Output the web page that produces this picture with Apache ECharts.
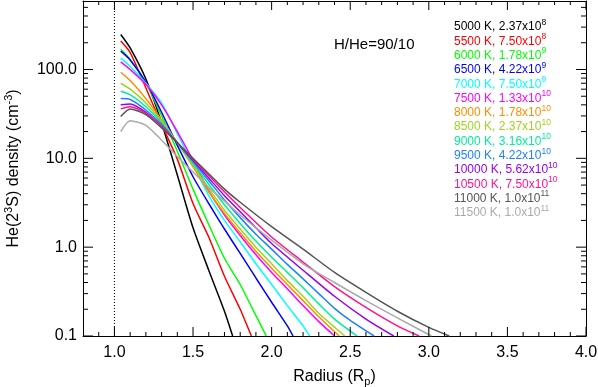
<!DOCTYPE html>
<html><head><meta charset="utf-8">
<script src="https://cdn.jsdelivr.net/npm/echarts@6/dist/echarts.min.js"></script>
<style>html,body{margin:0;padding:0;background:#fff}#c{width:598px;height:387px}</style>
</head><body><div id="c"></div>
<script>
// ---- data ----
const temps = ['5000','5500','6000','6500','7000','7500','8000','8500','9000','9500','10000','10500','11000','11500'];
const mantissas = ['2.37','7.50','1.78','4.22','7.50','1.33','1.78','2.37','3.16','4.22','5.62','7.50','1.0','1.0'];
const exponents = ['8','8','9','9','9','10','10','10','10','10','10','10','11','11'];

const d5000 = [[1.04,248],[1.1,175],[1.2,78],[1.3,25],[1.4,6.5],[1.5,1.65],[1.6,0.55],[1.7,0.19],[1.752,0.1]];
const d5500 = [[1.04,209],[1.1,155],[1.2,62],[1.3,24],[1.4,9.8],[1.5,3.1],[1.6,1.3],[1.7,0.47],[1.8,0.2],[1.871,0.1]];
const d6000 = [[1.04,169],[1.1,130],[1.2,70],[1.3,30],[1.4,12],[1.5,4.5],[1.6,1.8],[1.7,0.75],[1.8,0.38],[1.9,0.17],[1.966,0.1]];
const d6500 = [[1.04,161],[1.1,128],[1.2,72],[1.3,33],[1.4,14],[1.5,6.2],[1.6,3.1],[1.7,1.6],[1.8,0.85],[1.9,0.45],[2.0,0.24],[2.1,0.13],[2.136,0.1]];
const d7000 = [[1.04,134],[1.1,108],[1.2,70],[1.3,42],[1.4,19],[1.5,8.5],[1.6,3.8],[1.7,2.0],[1.8,1.15],[1.9,0.65],[2.0,0.38],[2.1,0.22],[2.2,0.13],[2.242,0.1]];
const d7500 = [[1.04,122],[1.1,100],[1.2,68],[1.3,40],[1.4,20],[1.5,9.5],[1.6,4.3],[1.7,2.3],[1.8,1.35],[1.9,0.82],[2.0,0.52],[2.1,0.34],[2.2,0.22],[2.3,0.145],[2.401,0.1]];
const d8000 = [[1.04,93],[1.1,75],[1.2,47],[1.3,27],[1.4,15],[1.5,8],[1.6,4.2],[1.7,2.4],[1.8,1.45],[1.9,0.9],[2.0,0.58],[2.1,0.38],[2.2,0.25],[2.3,0.165],[2.43,0.1]];
const d8500 = [[1.04,70],[1.1,60],[1.2,42],[1.3,26],[1.4,15],[1.5,8.3],[1.6,4.6],[1.7,2.6],[1.8,1.6],[1.9,1.0],[2.0,0.65],[2.1,0.42],[2.2,0.28],[2.3,0.18],[2.465,0.1]];
const d9000 = [[1.04,57],[1.1,52],[1.2,38],[1.3,25],[1.4,15],[1.5,8.8],[1.6,5.1],[1.7,3.0],[1.8,1.85],[1.9,1.17],[2.0,0.77],[2.1,0.52],[2.2,0.35],[2.3,0.23],[2.4,0.155],[2.544,0.1]];
const d9500 = [[1.04,47],[1.1,46],[1.2,35],[1.3,24],[1.4,15],[1.5,9.2],[1.6,5.6],[1.7,3.4],[1.8,2.15],[1.9,1.4],[2.0,0.95],[2.1,0.64],[2.2,0.44],[2.3,0.3],[2.4,0.205],[2.5,0.15],[2.652,0.1]];
const d10000 = [[1.04,40],[1.1,41],[1.2,33],[1.3,23],[1.4,15],[1.5,9.5],[1.6,6.0],[1.7,3.8],[1.8,2.5],[1.9,1.65],[2.0,1.1],[2.2,0.55],[2.4,0.28],[2.6,0.155],[2.777,0.1]];
const d10500 = [[1.04,36],[1.1,38],[1.2,32],[1.3,23],[1.4,15],[1.5,9.8],[1.6,6.4],[1.7,4.2],[1.8,2.8],[2.0,1.3],[2.2,0.68],[2.4,0.36],[2.6,0.21],[2.8,0.13],[2.938,0.1]];
const d11000 = [[1.04,29.5],[1.1,36],[1.2,31],[1.3,22],[1.4,15],[1.5,10],[1.6,6.7],[1.7,4.5],[1.8,3.2],[2.0,1.7],[2.2,0.95],[2.4,0.52],[2.6,0.31],[2.8,0.19],[3.0,0.125],[3.13,0.1]];
const d11500 = [[1.04,20],[1.1,26.5],[1.2,23.5],[1.3,16],[1.4,10.5],[1.5,7],[1.6,4.7],[1.7,3.3],[1.8,2.3],[2.0,1.2],[2.2,0.65],[2.4,0.4],[2.6,0.25],[2.8,0.16],[3.017,0.1]];
const allSeries = [d5000,d5500,d6000,d6500,d7000,d7500,d8000,d8500,d9000,d9500,d10000,d10500,d11000,d11500];

const surfaceRadius = 1.0;   // dotted vertical line (R = 1 Rp)
const xMajor = [1.0,1.5,2.0,2.5,3.0,3.5,4.0];
const xMinor = [0.9,1.1,1.2,1.3,1.4,1.6,1.7,1.8,1.9,2.1,2.2,2.3,2.4,2.6,2.7,2.8,2.9,3.1,3.2,3.3,3.4,3.6,3.7,3.8,3.9];
const yMajor = [0.1,1,10,100];
const yMinor = [0.2,0.3,0.4,0.5,0.6,0.7,0.8,0.9,2,3,4,5,6,7,8,9,20,30,40,50,60,70,80,90,200,300,400,500];

// ---- styles / layout ----
const colors = ['#000000','#ff0000','#00ff00','#0000ff','#00ffff','#ff00ff','#ff8c00','#9fd41f','#00ee99','#1e80ff','#9900ee','#ff1493','#555555','#aaaaaa'];
const FF = 'Liberation Sans, Arial, Helvetica, sans-serif';
const X0 = 0.8, X1 = 4.0, Y0 = 0.1, Y1 = 590;
const G = {left:83, right:12, top:1, bottom:51};
const decadePx = (387 - G.top - G.bottom) / Math.log10(Y1 / Y0);
const unitPx = (598 - G.left - G.right) / (X1 - X0);

const series = allSeries.map((d, i) => ({
  type:'line', name:temps[i], data:d, xAxisIndex:0, yAxisIndex:0,
  showSymbol:false, symbol:'none', smooth:0.25,
  lineStyle:{color:colors[i], width:1.5}, itemStyle:{color:colors[i]}
}));
series.push({
  type:'line', name:'surface', data:[[surfaceRadius, Y0], [surfaceRadius, Y1]], xAxisIndex:0, yAxisIndex:0,
  showSymbol:false, symbol:'none', lineStyle:{color:'#000', width:1, type:[1,2]}
});

// inside tick marks on all four sides, as short line segments on the chart's own axes
function tickLine(p1, p2) {
  series.push({type:'line', data:[p1, p2], xAxisIndex:0, yAxisIndex:0, silent:true,
    showSymbol:false, symbol:'none', lineStyle:{color:'#000', width:1}, z:30});
}
function xTicks(vals, len) {
  const f = Math.pow(10, len / decadePx);
  vals.forEach(v => { tickLine([v, Y0], [v, Y0 * f]); tickLine([v, Y1], [v, Y1 / f]); });
}
function yTicks(vals, len) {
  const dx = len / unitPx;
  vals.forEach(v => { tickLine([X0, v], [X0 + dx, v]); tickLine([X1, v], [X1 - dx, v]); });
}
xTicks(xMajor, 9); xTicks(xMinor, 4); yTicks(yMajor, 10); yTicks(yMinor, 5);

const graphics = [
  {type:'text', left:334, top:37, silent:true, style:{text:'H/He=90/10', fill:'#000', fontSize:15, fontFamily:FF}}
].concat(temps.map((t, i) => ({
  type:'text', left:454, top:18 + i * 14.3, silent:true,
  style:{
    text: '{n|' + t + ' K, ' + mantissas[i] + 'x10}{sup|' + exponents[i] + '}',
    fill: colors[i], fontSize:12, fontFamily:FF,
    rich:{
      n:{fontSize:12, lineHeight:18, fill:colors[i], fontFamily:FF},
      sup:{fontSize:8.5, lineHeight:9, verticalAlign:'top', fill:colors[i], fontFamily:FF}
    }
  }
})));

const chart = echarts.init(document.getElementById('c'));
chart.setOption({
  animation:false,
  grid:{left:G.left, right:G.right, top:G.top, bottom:G.bottom, outerBoundsMode:'none'},
  xAxis:[
    {type:'value', min:X0, max:X1, position:'bottom',
     axisLine:{show:true, onZero:false, lineStyle:{color:'#000', width:1}},
     splitLine:{show:false}, axisTick:{show:false},
     axisLabel:{customValues:xMajor, formatter:v => v.toFixed(1), fontSize:16, color:'#000', margin:9, fontFamily:FF},
     name:'Radius (R{sub|p})', nameLocation:'middle', nameGap:25,
     nameTextStyle:{fontSize:16, lineHeight:22, color:'#000', fontFamily:FF,
       rich:{sub:{fontSize:11, verticalAlign:'bottom', lineHeight:12, fontFamily:FF, color:'#000'}}}},
    {type:'value', min:X0, max:X1, position:'top',
     axisLine:{show:true, onZero:false, lineStyle:{color:'#000', width:1}},
     splitLine:{show:false}, axisTick:{show:false}, axisLabel:{show:false}}
  ],
  yAxis:[
    {type:'log', logBase:10, min:Y0, max:Y1, position:'left',
     axisLine:{show:true, onZero:false, lineStyle:{color:'#000', width:1}},
     splitLine:{show:false}, axisTick:{show:false},
     axisLabel:{customValues:yMajor, formatter:v => Number(v).toFixed(1), fontSize:16, color:'#000', margin:6, fontFamily:FF},
     name:'He(2{sup|3}S) density (cm{sup|-3})', nameLocation:'middle', nameRotate:90, nameGap:58,
     nameTextStyle:{fontSize:16, lineHeight:22, color:'#000', fontFamily:FF,
       rich:{sup:{fontSize:11, verticalAlign:'top', lineHeight:12, fontFamily:FF, color:'#000'}}}},
    {type:'log', logBase:10, min:Y0, max:Y1, position:'right',
     axisLine:{show:true, onZero:false, lineStyle:{color:'#000', width:1}},
     splitLine:{show:false}, axisTick:{show:false}, axisLabel:{show:false}}
  ],
  series: series,
  graphic: graphics
});
</script>
</body></html>
